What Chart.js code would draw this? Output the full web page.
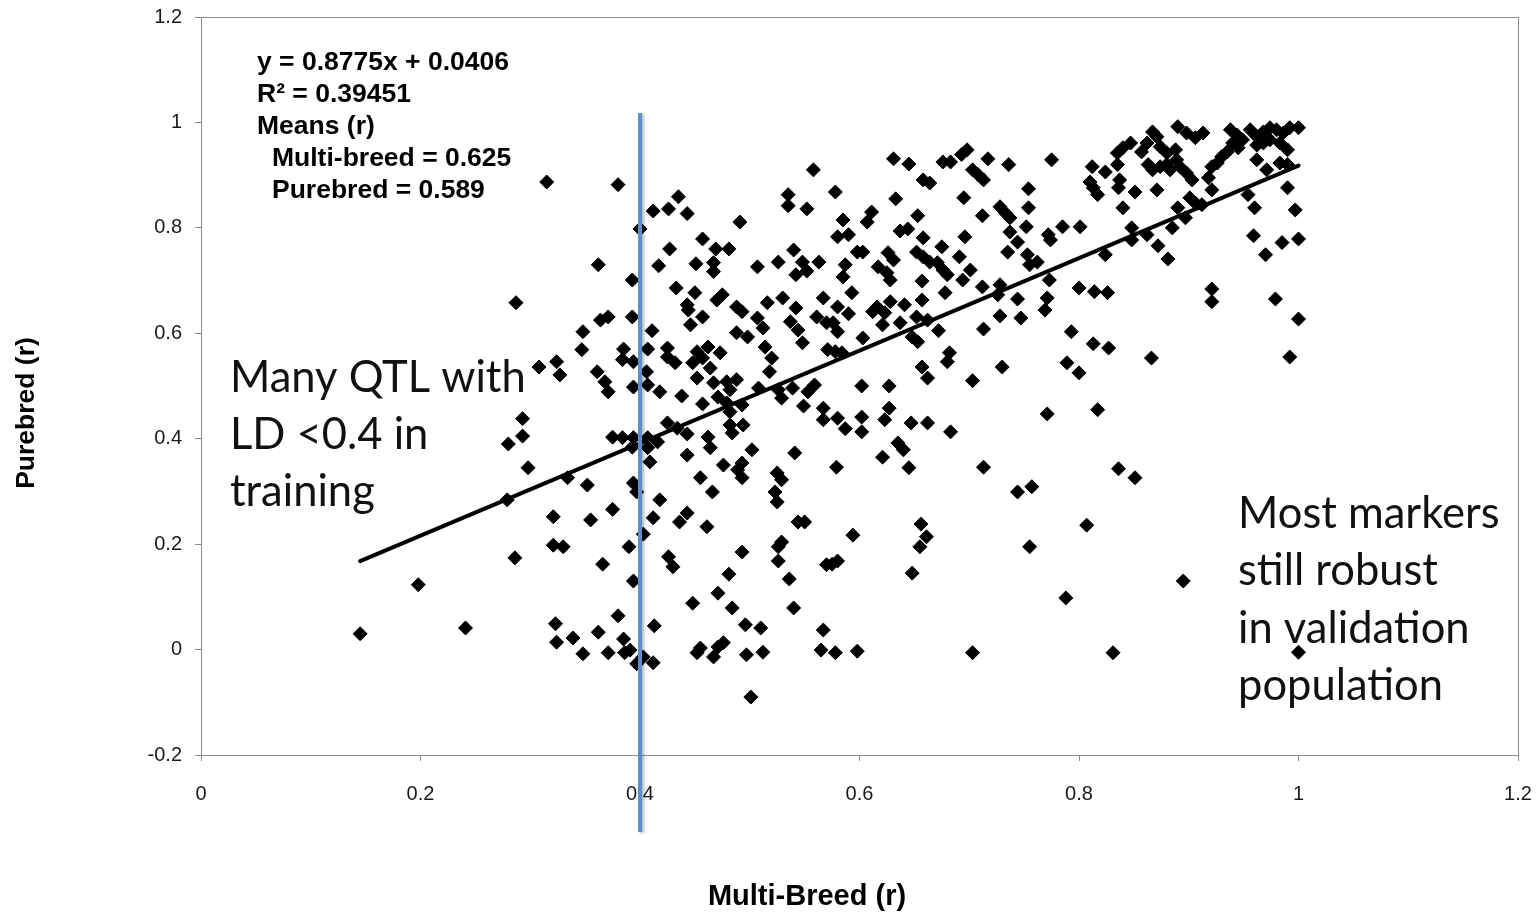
<!DOCTYPE html>
<html>
<head>
<meta charset="utf-8">
<title>Multi-Breed vs Purebred (r)</title>
<script src="https://cdn.jsdelivr.net/npm/chart.js@4.4.1/dist/chart.umd.min.js"></script>
<style>
  html, body { margin: 0; padding: 0; background: #fff; }
  #wrap { width: 1539px; height: 915px; }
</style>
</head>
<body>
<div id="wrap"><canvas id="scatter" width="1539" height="915"></canvas></div>
<script>
const xTicks = [0, 0.2, 0.4, 0.6, 0.8, 1, 1.2];
const yTicks = [-0.2, 0, 0.2, 0.4, 0.6, 0.8, 1, 1.2];

// marker correlations: multi-breed training (x) vs purebred validation (y)
const multiBreed = [
  // low end
  0.145, 0.198, 0.241, 0.279, 0.286, 0.287, 0.280, 0.293, 0.293, 0.298, 0.315, 0.308, 0.324, 0.327, 0.348, 0.347, 0.321, 0.355, 0.321, 0.330, 0.323, 0.324, 0.339, 0.348,
  0.334, 0.352, 0.375, 0.412, 0.436, 0.443, 0.461, 0.403, 0.390, 0.366, 0.426, 0.430, 0.394, 0.493, 0.529, 0.526, 0.544, 0.550, 0.526, 0.570, 0.481, 0.471, 0.448, 0.484, 0.536, 0.540,
  0.380, 0.362, 0.413, 0.385, 0.371, 0.386, 0.391, 0.397, 0.403, 0.412, 0.496, 0.510, 0.455, 0.452, 0.476, 0.471, 0.467, 0.497, 0.512, 0.567, 0.565, 0.501,
  0.656, 0.661, 0.655, 0.594, 0.580, 0.575, 0.648, 0.755, 0.788, 0.578, 0.598, 0.703, 0.807, 0.895, 0.831, 1.000,
  // middle band
  0.590, 0.612, 0.623, 0.621, 0.637, 0.652, 0.662, 0.576, 0.580, 0.603, 0.578, 0.584, 0.648, 0.653, 0.672, 0.682, 0.680, 0.657, 0.662, 0.713, 0.728, 0.747, 0.769, 0.793,
  0.730, 0.703, 0.789, 0.602, 0.627, 0.580, 0.587, 0.602, 0.602, 0.627, 0.623, 0.647, 0.662, 0.683, 0.771, 0.635, 0.640, 0.621, 0.579, 0.645, 0.713, 0.744, 0.757,
  0.813, 0.827, 0.866, 0.800, 0.817, 0.836, 0.851, 1.000, 0.992,
  // upper right cluster
  0.890, 0.898, 0.906, 0.913, 0.867, 0.871, 0.862, 0.847, 0.840, 0.835,
  0.857, 0.874, 0.880, 0.888, 0.889, 0.835, 0.812, 0.824, 0.863, 0.867,
  0.874, 0.880, 0.883, 0.892, 0.898, 0.903, 0.810, 0.813, 0.817, 0.837,
  0.836, 0.851, 0.871, 0.840, 0.921, 0.918, 0.926, 0.930, 0.935, 0.938,
  0.944, 0.949, 0.940, 0.945, 0.956, 0.962, 0.968, 0.974, 0.980, 0.986,
  0.992, 1.000, 0.962, 0.968, 0.974, 0.962, 0.971, 0.983, 0.990, 0.983,
  0.990, 0.921, 0.901, 0.906, 0.912, 0.954, 0.960, 0.990, 0.997, 0.890,
  0.897, 0.885, 0.848, 0.848, 0.862, 0.872, 0.881, 0.824, 0.801, 0.959,
  0.970, 0.985, 1.000, 0.800, 0.814, 0.826, 0.921, 0.921, 0.979,
  // upper middle
  0.698, 0.693, 0.631, 0.645, 0.676, 0.683, 0.717, 0.736, 0.775, 0.703,
  0.708, 0.713, 0.658, 0.664, 0.578, 0.633, 0.695, 0.754, 0.728, 0.733,
  0.737, 0.754, 0.712, 0.611, 0.607, 0.585, 0.653, 0.637, 0.644, 0.580,
  0.590, 0.658, 0.737, 0.744, 0.752, 0.772, 0.774, 0.785, 0.696, 0.675,
  0.598, 0.603, 0.626, 0.631, 0.617, 0.625, 0.628, 0.652, 0.658, 0.664,
  0.671, 0.691, 0.735, 0.753, 0.755, 0.762, 0.587, 0.585, 0.701, 0.694,
  0.676, 0.680, 0.657, 0.712, 0.728, 0.726, 0.773, 0.593, 0.678, 0.657,
  0.744, 0.771, 0.628, 0.616, 0.641, 0.580,
  // upper left
  0.380, 0.558, 0.435, 0.412, 0.426, 0.443, 0.535, 0.535, 0.552, 0.491,
  0.400, 0.457, 0.427, 0.469, 0.481, 0.362, 0.417, 0.451, 0.467, 0.467,
  0.507, 0.526, 0.540, 0.548, 0.552, 0.542, 0.563, 0.393, 0.433, 0.450,
  0.475, 0.470, 0.443, 0.488, 0.516, 0.530, 0.542, 0.567,
  // centre mass
  0.364, 0.371, 0.393, 0.411, 0.446, 0.457, 0.444, 0.488, 0.498, 0.493,
  0.507, 0.512, 0.537, 0.544, 0.548, 0.561, 0.570, 0.571, 0.385, 0.384,
  0.394, 0.407, 0.425, 0.425, 0.432, 0.452, 0.462, 0.473, 0.457, 0.448,
  0.464, 0.514, 0.520, 0.518, 0.361, 0.368, 0.371, 0.394, 0.406, 0.407,
  0.418, 0.438, 0.452, 0.467, 0.479, 0.488, 0.482, 0.457, 0.471, 0.479,
  0.482, 0.493, 0.508, 0.526, 0.529, 0.539, 0.559, 0.553, 0.549, 0.567,
  0.567, 0.425, 0.434, 0.443, 0.482, 0.494, 0.484, 0.462, 0.464, 0.375,
  0.384, 0.394, 0.393, 0.407, 0.416, 0.407, 0.502, 0.443, 0.541, 0.409,
  0.476, 0.493, 0.489, 0.493, 0.455, 0.525, 0.529, 0.466, 0.523, 0.525,
  0.394, 0.397, 0.418
];

const purebred = [
  // low end
  0.030, 0.123, 0.041, 0.284, 0.174, 0.658, 0.390, 0.405, 0.438, 0.345, 0.887, 0.536, 0.546, 0.521, 0.603, 0.569, 0.252, 0.246, 0.198, 0.195, 0.049, 0.014, 0.022, -0.008,
  0.326, 0.312, 0.266, 0.250, 0.242, 0.259, 0.233, 0.219, 0.195, 0.162, 0.176, 0.157, 0.130, 0.185, 0.204, 0.195, 0.242, 0.242, 0.168, 0.161, 0.143, 0.107, 0.088, 0.079, 0.134, 0.079,
  0.064, 0.033, 0.045, 0.020, -0.006, -0.006, -0.001, -0.027, -0.014, -0.025, 0.047, 0.041, 0.003, -0.006, 0.013, 0.005, -0.014, -0.010, -0.005, 0.037, -0.001, -0.090,
  0.238, 0.214, 0.195, 0.217, 0.168, 0.162, 0.145, 0.195, 0.098, -0.006, -0.003, -0.006, 0.236, 0.130, -0.006, -0.005,
  // middle band
  0.637, 0.641, 0.639, 0.616, 0.620, 0.631, 0.625, 0.620, 0.603, 0.591, 0.565, 0.563, 0.593, 0.584, 0.605, 0.563, 0.546, 0.536, 0.515, 0.608, 0.633, 0.629, 0.644, 0.603,
  0.536, 0.510, 0.544, 0.500, 0.500, 0.439, 0.419, 0.441, 0.413, 0.458, 0.436, 0.430, 0.430, 0.413, 0.447, 0.392, 0.379, 0.365, 0.346, 0.345, 0.346, 0.299, 0.309,
  0.580, 0.572, 0.553, 0.525, 0.455, 0.343, 0.326, 0.627, 0.555,
  // upper right cluster
  0.992, 0.980, 0.971, 0.980, 0.982, 0.973, 0.961, 0.961, 0.952, 0.942,
  0.944, 0.954, 0.942, 0.948, 0.929, 0.920, 0.916, 0.906, 0.920, 0.910,
  0.916, 0.920, 0.910, 0.916, 0.904, 0.891, 0.887, 0.876, 0.863, 0.891,
  0.876, 0.868, 0.872, 0.838, 0.916, 0.895, 0.923, 0.935, 0.944, 0.986,
  0.976, 0.967, 0.961, 0.952, 0.986, 0.973, 0.982, 0.990, 0.986, 0.980,
  0.990, 0.990, 0.957, 0.961, 0.967, 0.929, 0.910, 0.961, 0.948, 0.923,
  0.920, 0.872, 0.857, 0.847, 0.844, 0.863, 0.838, 0.876, 0.834, 0.838,
  0.819, 0.800, 0.800, 0.777, 0.787, 0.766, 0.741, 0.749, 0.802, 0.785,
  0.749, 0.772, 0.779, 0.686, 0.679, 0.677, 0.684, 0.660, 0.665,
  // upper middle
  0.948, 0.939, 0.931, 0.921, 0.925, 0.925, 0.931, 0.920, 0.929, 0.910,
  0.901, 0.891, 0.891, 0.885, 0.868, 0.855, 0.857, 0.874, 0.840, 0.828,
  0.819, 0.838, 0.823, 0.830, 0.811, 0.815, 0.823, 0.794, 0.798, 0.783,
  0.787, 0.781, 0.792, 0.773, 0.802, 0.787, 0.777, 0.802, 0.783, 0.764,
  0.754, 0.754, 0.753, 0.739, 0.726, 0.715, 0.701, 0.754, 0.745, 0.735,
  0.734, 0.745, 0.754, 0.749, 0.730, 0.735, 0.730, 0.707, 0.720, 0.701,
  0.720, 0.711, 0.699, 0.688, 0.692, 0.673, 0.701, 0.677, 0.677, 0.663,
  0.665, 0.667, 0.660, 0.650, 0.654, 0.650,
  // upper left
  0.882, 0.910, 0.859, 0.832, 0.836, 0.827, 0.863, 0.842, 0.836, 0.811,
  0.798, 0.779, 0.760, 0.760, 0.760, 0.730, 0.728, 0.732, 0.734, 0.717,
  0.726, 0.735, 0.758, 0.735, 0.718, 0.711, 0.735, 0.701, 0.686, 0.677,
  0.673, 0.663, 0.654, 0.650, 0.658, 0.667, 0.648, 0.667,
  // centre mass
  0.625, 0.631, 0.631, 0.605, 0.616, 0.631, 0.644, 0.601, 0.593, 0.641,
  0.629, 0.610, 0.622, 0.606, 0.582, 0.631, 0.620, 0.569, 0.570, 0.550,
  0.546, 0.570, 0.572, 0.555, 0.544, 0.565, 0.574, 0.563, 0.553, 0.544,
  0.534, 0.574, 0.553, 0.527, 0.527, 0.508, 0.489, 0.498, 0.527, 0.502,
  0.489, 0.481, 0.515, 0.506, 0.508, 0.512, 0.493, 0.466, 0.479, 0.468,
  0.451, 0.464, 0.496, 0.493, 0.477, 0.496, 0.502, 0.489, 0.462, 0.458,
  0.436, 0.430, 0.420, 0.409, 0.426, 0.426, 0.411, 0.403, 0.383, 0.403,
  0.402, 0.402, 0.384, 0.402, 0.394, 0.383, 0.379, 0.369, 0.373, 0.356,
  0.350, 0.354, 0.341, 0.326, 0.326, 0.335, 0.322, 0.299, 0.299, 0.280,
  0.316, 0.299, 0.284
];

// linear fit and summary stats
const slope = 0.8775;
const intercept = 0.0406;
const rSquared = "0.39451";
const meanMulti = "0.625";
const meanPure = "0.589";

// LD threshold in training
const ldCutoff = 0.4;

const leftNote = ["Many QTL with", "LD <0.4 in", "training"];
const rightNote = ["Most markers", "still robust", "in validation", "population"];

const SANS = '"Liberation Sans", Arial, sans-serif';
const NOTE_FONT = 'Lato, "Open Sans", sans-serif';
const FRAME = "#8c8c8c";

document.addEventListener("DOMContentLoaded", () => {
  const ctx = document.getElementById("scatter");

  const points = multiBreed.map((x, i) => ({ x: x, y: purebred[i] }));
  const xMin = Math.min(...multiBreed);
  const xMax = Math.max(...multiBreed);
  const fitLine = [xMin, xMax].map(x => ({ x: x, y: slope * x + intercept }));

  const overlay = {
    id: "overlay",
    beforeDatasetsDraw(chart) {
      const { ctx: c, chartArea: a } = chart;
      c.save();
      c.strokeStyle = FRAME;
      c.lineWidth = 1;
      c.strokeRect(Math.round(a.left) + 0.5, Math.round(a.top) + 0.5, Math.round(a.right - a.left), Math.round(a.bottom - a.top));
      c.restore();
    },
    afterDraw(chart) {
      const { ctx: c, chartArea: a, scales } = chart;
      c.save();

      // vertical marker at the LD cutoff, runs past the axis labels
      const lx = scales.x.getPixelForValue(ldCutoff);
      c.shadowColor = "rgba(0,0,0,0.3)";
      c.shadowBlur = 3;
      c.shadowOffsetX = 2;
      c.shadowOffsetY = 1;
      c.strokeStyle = "#5d8fcb";
      c.lineWidth = 4;
      c.beginPath();
      c.moveTo(lx, a.top + 96);
      c.lineTo(lx, a.bottom + 77);
      c.stroke();
      c.shadowColor = "transparent";

      // regression / means box
      const stats = [
        `y = ${slope}x + ${intercept}`,
        `R² = ${rSquared}`,
        "Means (r)",
        `Multi-breed = ${meanMulti}`,
        `Purebred = ${meanPure}`
      ];
      c.fillStyle = "#000";
      c.font = `bold 26.5px ${SANS}`;
      c.textBaseline = "middle";
      c.textAlign = "left";
      stats.forEach((t, i) => {
        c.fillText(t, i > 2 ? 272 : 257, 63 + i * 32);
      });

      c.fillStyle = "#111";
      c.font = `43.5px ${NOTE_FONT}`;
      leftNote.forEach((t, i) => c.fillText(t, 230, 378 + i * 57));
      rightNote.forEach((t, i) => c.fillText(t, 1238, 514 + i * 57.3));

      // axis titles
      c.fillStyle = "#000";
      c.textAlign = "center";
      c.font = `bold 29px ${SANS}`;
      c.fillText("Multi-Breed (r)", 807, 897);
      c.font = `bold 26.5px ${SANS}`;
      c.translate(27, 413);
      c.rotate(-Math.PI / 2);
      c.fillText("Purebred (r)", 0, 0);
      c.restore();
    }
  };

  new Chart(ctx, {
    type: "scatter",
    data: {
      datasets: [
        {
          label: "Purebred (r)",
          data: points,
          pointStyle: "rectRot",
          pointRadius: 7,
          pointHoverRadius: 7,
          pointBackgroundColor: "#000",
          pointBorderColor: "#000",
          pointBorderWidth: 1
        },
        {
          type: "line",
          label: "Linear fit",
          data: fitLine,
          borderColor: "#000",
          borderWidth: 4,
          pointRadius: 0,
          fill: false,
          borderCapStyle: "round"
        }
      ]
    },
    options: {
      responsive: false,
      animation: false,
      events: [],
      layout: { padding: { top: 17, right: 21, bottom: 0, left: 0 } },
      plugins: { legend: { display: false }, tooltip: { enabled: false } },
      scales: {
        x: {
          type: "linear",
          min: 0,
          max: 1.2,
          afterBuildTicks: s => { s.ticks = xTicks.map(v => ({ value: v })); },
          // fixed band below the plot; end labels may overhang the frame
          afterFit: s => { s.height = 160; s.paddingLeft = 0; s.paddingRight = 0; },
          grid: { drawOnChartArea: false, tickLength: 6, color: FRAME },
          border: { color: FRAME, width: 1 },
          ticks: {
            color: "#1a1a1a",
            font: { family: SANS, size: 20 },
            padding: 21,
            maxRotation: 0,
            autoSkip: false,
            callback: v => String(v)
          }
        },
        y: {
          type: "linear",
          min: -0.2,
          max: 1.2,
          afterBuildTicks: s => { s.ticks = yTicks.map(v => ({ value: v })); },
          afterFit: s => { s.width = 201; s.paddingTop = 0; s.paddingBottom = 0; },
          grid: { drawOnChartArea: false, tickLength: 6, color: FRAME },
          border: { color: FRAME, width: 1 },
          ticks: {
            color: "#1a1a1a",
            font: { family: SANS, size: 20 },
            padding: 13,
            autoSkip: false,
            callback: v => String(v)
          }
        }
      }
    },
    plugins: [overlay]
  });
});
</script>
</body>
</html>
